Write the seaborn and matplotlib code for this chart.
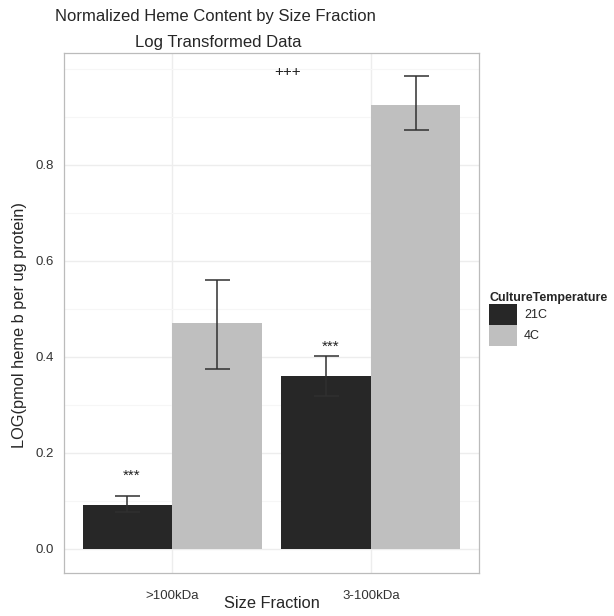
import numpy as np
import pandas as pd
import matplotlib
matplotlib.use("Agg")
import matplotlib.pyplot as plt
import seaborn as sns

# ---- data ----
fractions = [">100kDa", "3-100kDa"]
temps = ["21C", "4C"]
mean_21c = [0.091, 0.360]
mean_4c = [0.470, 0.926]
lo_21c = [0.077, 0.319]
hi_21c = [0.110, 0.402]
lo_4c = [0.376, 0.873]
hi_4c = [0.561, 0.986]
star_y = [0.152, 0.421]       # "***" above the 21C bars
plus_x, plus_y = 0.583, 0.994  # "+++" annotation

df = pd.DataFrame({
    "Size Fraction": fractions * 2,
    "CultureTemperature": [temps[0]] * 2 + [temps[1]] * 2,
    "value": mean_21c + mean_4c,
    "lo": lo_21c + lo_4c,
    "hi": hi_21c + hi_4c,
})

sns.set_theme(style="white")
plt.rcParams["font.family"] = ["Liberation Sans", "DejaVu Sans"]

W, H = 614, 616
fig = plt.figure(figsize=(W / 100, H / 100), dpi=100)
ax = fig.add_axes([64 / W, (H - 573) / H, 415 / W, 520 / H])

pal = {"21C": "#272727", "4C": "#bfbfbf"}
sns.barplot(data=df, x="Size Fraction", y="value", hue="CultureTemperature",
            order=fractions, hue_order=temps, palette=pal, errorbar=None,
            width=0.9, saturation=1, ax=ax, legend=True, zorder=2, linewidth=0)

# error bars placed at the bar centres seaborn produced
bars = [p for p in ax.patches if p.get_height() > 0][:4]
for p, (_, r) in zip(bars, df.iterrows()):
    cx = p.get_x() + p.get_width() / 2
    ax.errorbar(cx, r["value"], yerr=[[r["value"] - r["lo"]], [r["hi"] - r["value"]]],
                fmt="none", ecolor="#303030", elinewidth=1.1, capsize=9,
                capthick=1.1, zorder=3)

for p, sy in zip(bars[:2], star_y):
    cx = p.get_x() + p.get_width() / 2 + 0.02
    ax.text(cx, sy, "***", ha="center", va="center", fontsize=11, color="#222222")
ax.text(plus_x, plus_y, "+++", ha="center", va="center", fontsize=11, color="#222222")

ax.set_xlim(-0.543, 1.543)
ax.set_ylim(-0.05, 1.0333)
ax.set_yticks([0, 0.2, 0.4, 0.6, 0.8])
ax.set_yticklabels(["0.0", "0.2", "0.4", "0.6", "0.8"])
ax.set_yticks([0.1, 0.3, 0.5, 0.7, 0.9, 1.0], minor=True)
ax.grid(True, which="major", color="#ededed", lw=1.0, zorder=0)
ax.grid(True, which="minor", axis="y", color="#f6f6f6", lw=0.8, zorder=0)
ax.set_axisbelow(True)
ax.tick_params(axis="both", which="major", direction="out", length=4, width=0.8,
               color="#999999", labelsize=9.5, labelcolor="#333333")
ax.tick_params(axis="x", pad=8)
ax.tick_params(axis="y", pad=3)
ax.tick_params(which="minor", length=0)
for s in ax.spines.values():
    s.set_color("#bbbbbb")
    s.set_linewidth(0.9)

ax.set_xlabel("Size Fraction", fontsize=11.8, labelpad=-4)
ax.set_ylabel("")
fig.text(20 / W, 1 - 325 / H, "LOG(pmol heme b per ug protein)", rotation=90,
         ha="center", va="center", fontsize=11.8)

fig.text(215 / W, 1 - 17 / H, "Normalized Heme Content by Size Fraction",
         ha="center", va="center", fontsize=12)
fig.text(218 / W, 1 - 42 / H, "Log Transformed Data",
         ha="center", va="center", fontsize=12)

leg = ax.legend(title="CultureTemperature", loc="upper left",
                bbox_to_anchor=(489 / W, 1 - 292 / H), bbox_transform=fig.transFigure,
                frameon=False, fontsize=9, title_fontsize=9,
                handlelength=2.2, handleheight=2.2, handletextpad=0.6,
                labelspacing=0.0, borderaxespad=0, borderpad=0)
leg.get_title().set_fontweight("bold")
leg._legend_box.align = "left"

fig.savefig("out.png", dpi=100)
